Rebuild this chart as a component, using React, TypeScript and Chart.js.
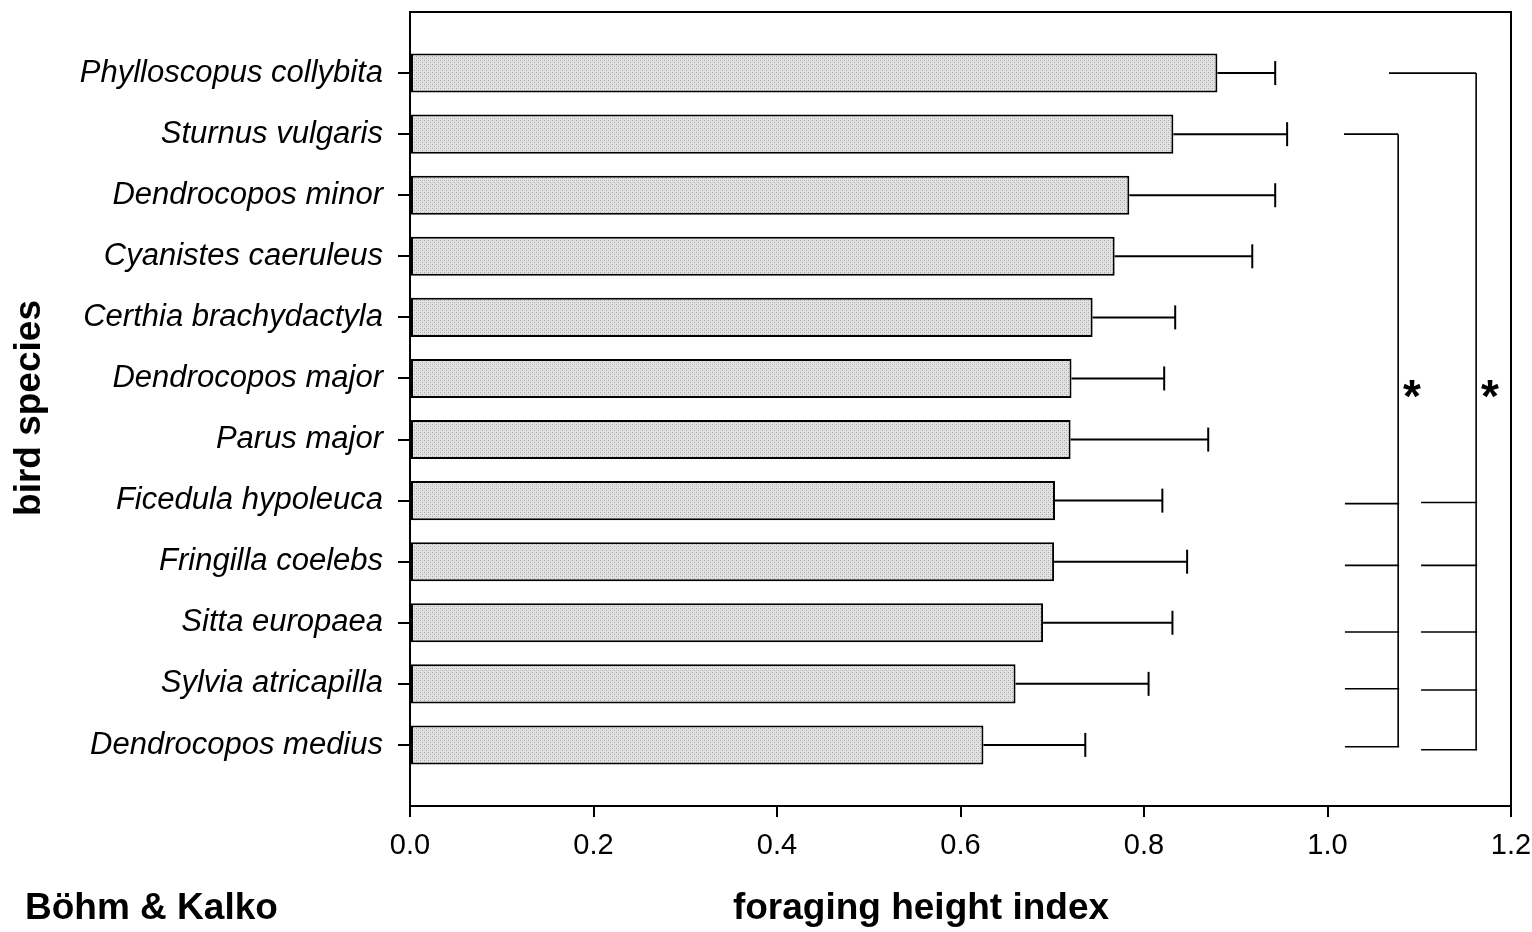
import React, { useEffect, useRef } from "react";
import { Chart, registerables } from "chart.js";

Chart.register(...registerables);

// ---------- data ----------
const species = [
  "Phylloscopus collybita",
  "Sturnus vulgaris",
  "Dendrocopos minor",
  "Cyanistes caeruleus",
  "Certhia brachydactyla",
  "Dendrocopos major",
  "Parus major",
  "Ficedula hypoleuca",
  "Fringilla coelebs",
  "Sitta europaea",
  "Sylvia atricapilla",
  "Dendrocopos medius",
];
const meanIndex = [0.88, 0.832, 0.784, 0.768, 0.744, 0.721, 0.72, 0.703, 0.702, 0.69, 0.66, 0.625];
const errorUpper = [0.943, 0.956, 0.943, 0.918, 0.834, 0.822, 0.87, 0.82, 0.847, 0.831, 0.805, 0.736];
const xTicks = [0, 0.2, 0.4, 0.6, 0.8, 1.0, 1.2];

// significance brackets (rows = species index, x in index units)
const bracketARows = [7.05, 8.06, 9.15, 10.08, 11.03];
const bracketATopRow = 1;
const bracketBRows = [7.03, 8.06, 9.15, 10.1, 11.08];
const bracketBTopRow = 0;
const bracketAX = { tickLeft: 1.019, spine: 1.077, topLeft: 1.018 };
const bracketBX = { tickLeft: 1.102, spine: 1.162, topLeft: 1.067 };
const starMarks = [
  { x: 1.092, row: 5.25 },
  { x: 1.177, row: 5.25 },
];

const yTitle = "bird species";
const xTitle = "foraging height index";
const credit = "Böhm & Kalko";

const FONT = "'Liberation Sans', Arial, Helvetica, sans-serif";

const overlay = {
  id: "overlay",
  afterDatasetsDraw(chart: any) {
    const { ctx, chartArea, scales } = chart;
    const x = scales.x;
    const y = scales.y;
    const line = (x0: number, y0: number, x1: number, y1: number) => {
      ctx.beginPath();
      ctx.moveTo(x0, y0);
      ctx.lineTo(x1, y1);
      ctx.stroke();
    };
    ctx.save();
    ctx.strokeStyle = "#000";
    ctx.lineCap = "butt";
    // error bars
    ctx.lineWidth = 2;
    meanIndex.forEach((m, i) => {
      const yc = y.getPixelForValue(i);
      const x0 = x.getPixelForValue(m);
      const x1 = x.getPixelForValue(errorUpper[i]);
      line(x0, yc, x1, yc);
      line(x1, yc - 12, x1, yc + 12);
    });
    // brackets
    ctx.lineWidth = 1.6;
    const drawBracket = (rows: number[], topRow: number, bx: any) => {
      const sx = x.getPixelForValue(bx.spine);
      const ty = y.getPixelForValue(topRow);
      const by = y.getPixelForValue(rows[rows.length - 1]);
      line(sx, ty, sx, by);
      line(x.getPixelForValue(bx.topLeft), ty, sx, ty);
      rows.forEach((r) => {
        const ry = y.getPixelForValue(r);
        line(x.getPixelForValue(bx.tickLeft), ry, sx + 1, ry);
      });
    };
    drawBracket(bracketARows, bracketATopRow, bracketAX);
    drawBracket(bracketBRows, bracketBTopRow, bracketBX);
    // stars
    ctx.fillStyle = "#000";
    ctx.font = `bold 46px ${FONT}`;
    ctx.textAlign = "center";
    ctx.textBaseline = "middle";
    starMarks.forEach((s) => {
      ctx.fillText("*", x.getPixelForValue(s.x), y.getPixelForValue(s.row) + 6);
    });
    // frame
    ctx.lineWidth = 2;
    ctx.strokeRect(chartArea.left, chartArea.top, chartArea.right - chartArea.left, chartArea.bottom - chartArea.top);
    ctx.restore();
  },
  afterDraw(chart: any) {
    const { ctx } = chart;
    ctx.save();
    ctx.fillStyle = "#000";
    ctx.font = `bold 37px ${FONT}`;
    ctx.textBaseline = "alphabetic";
    ctx.textAlign = "center";
    ctx.fillText(xTitle, 921, 919);
    ctx.textAlign = "left";
    ctx.fillText(credit, 25, 919);
    ctx.translate(40, 408);
    ctx.rotate(-Math.PI / 2);
    ctx.textAlign = "center";
    ctx.fillText(yTitle, 0, 0);
    ctx.restore();
  },
};

function makePattern(): CanvasPattern | string {
  const pc = document.createElement("canvas");
  pc.width = 4;
  pc.height = 4;
  const c = pc.getContext("2d");
  if (!c) return "#d9d9d9";
  c.fillStyle = "#e3e3e3";
  c.fillRect(0, 0, 4, 4);
  c.fillStyle = "#a8a8a8";
  c.fillRect(0, 0, 1, 1);
  c.fillRect(2, 2, 1, 1);
  c.fillStyle = "#cfcfcf";
  c.fillRect(2, 0, 1, 1);
  c.fillRect(0, 2, 1, 1);
  const p = c.createPattern(pc, "repeat");
  return p || "#d9d9d9";
}

export default function App() {
  const ref = useRef<HTMLCanvasElement | null>(null);
  useEffect(() => {
    if (!ref.current) return;
    const chart = new Chart(ref.current, {
      type: "bar",
      data: {
        datasets: [
          {
            data: meanIndex.map((v, i) => ({ x: v, y: i })) as any,
            backgroundColor: makePattern() as any,
            borderColor: "#000",
            borderWidth: 2,
            borderSkipped: false,
            categoryPercentage: 0.8,
            barPercentage: 0.8,
          },
        ],
      },
      options: {
        indexAxis: "y",
        animation: false,
        responsive: true,
        maintainAspectRatio: false,
        layout: { padding: { top: 12, right: 21, left: 0, bottom: 0 } },
        plugins: { legend: { display: false }, tooltip: { enabled: false } },
        scales: {
          x: {
            type: "linear",
            min: 0,
            max: 1.2,
            offset: false,
            afterBuildTicks: (s: any) => {
              s.ticks = xTicks.map((v) => ({ value: v }));
            },
            afterFit: (s: any) => {
              s.height = 126;
              s.paddingLeft = 0;
              s.paddingRight = 0;
            },
            ticks: {
              callback: (v: any) => Number(v).toFixed(1),
              color: "#000",
              font: { family: FONT, size: 29 },
              padding: 12,
              maxRotation: 0,
              autoSkip: false,
            },
            grid: { offset: false, drawOnChartArea: false, drawTicks: true, tickLength: 11, color: "#000", lineWidth: 2 },
            border: { display: true, color: "#000", width: 2 },
          },
          y: {
            type: "linear",
            min: -1,
            max: 12,
            reverse: true,
            offset: false,
            afterBuildTicks: (s: any) => {
              s.ticks = species.map((_, i) => ({ value: i }));
            },
            afterFit: (s: any) => {
              s.width = 410;
              s.paddingTop = 0;
              s.paddingBottom = 0;
            },
            ticks: {
              callback: (v: any) => species[v as number] ?? "",
              color: "#000",
              font: { family: FONT, size: 31, style: "italic" },
              padding: 15,
              autoSkip: false,
            },
            grid: { offset: false, drawOnChartArea: false, drawTicks: true, tickLength: 12, color: "#000", lineWidth: 2 },
            border: { display: true, color: "#000", width: 2 },
          },
        },
      },
      plugins: [overlay],
    });
    return () => chart.destroy();
  }, []);
  return (
    <div style={{ position: "fixed", left: 0, top: 0, width: 1532, height: 932, background: "#fff" }}>
      <canvas ref={ref} style={{ display: "block" }} />
    </div>
  );
}
